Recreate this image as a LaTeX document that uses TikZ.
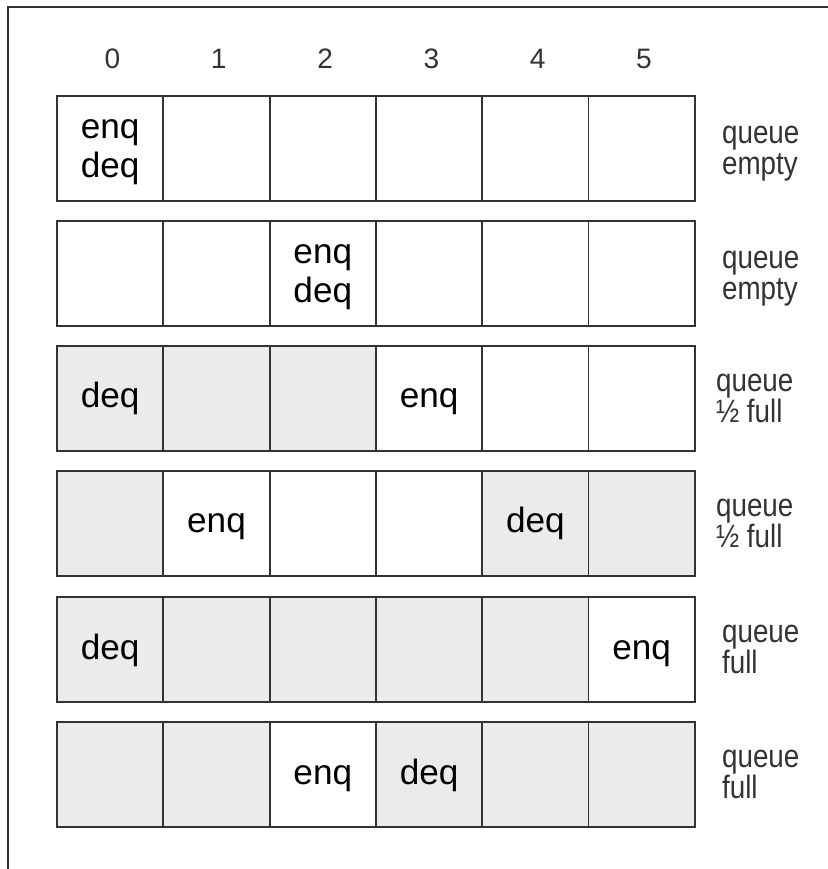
\documentclass[tikz,border=0pt]{standalone}
\usepackage{fontspec}
\setmainfont{Liberation Sans}
\newfontfamily\narrowsans[FakeStretch=0.86]{Liberation Sans}
\usepackage{tikz}
\usetikzlibrary{positioning}
\definecolor{slotgray}{HTML}{EBEBEB}
\definecolor{ink}{HTML}{333333}
\newcommand\cellstrut{\rule[-8pt]{0pt}{29.5pt}}
\newcommand\labelstrut{\rule{0pt}{20pt}}

\begin{document}
\begin{tikzpicture}[
  x=0.025cm, y=-0.025cm,
  node distance=5.5mm,
  cell/.style={draw=ink, line width=1.3pt, minimum width=2.6575cm, minimum height=2.625cm, inner sep=0pt, align=center, font=\fontsize{25}{28}\selectfont, execute at begin node=\cellstrut},
  free/.style={cell, fill=white},
  used/.style={cell, fill=slotgray},
  idx/.style={font=\fontsize{20}{22}\selectfont, text=ink},
  state/.style={align=left, inner sep=1mm, text=ink, font=\narrowsans\fontsize{23}{22}\selectfont},
]
\useasboundingbox (0,0) rectangle (828,869);
% Frame
\draw[ink, line width=1.3pt] (8,869) -- (8,7) -- (828,7);
% Slot numbers
\foreach \c in {0,...,5} \node[idx] (h\c) at (106.3*\c+112.5, 58.5) {\c};
% Row 1
\foreach \s/\t [count=\c from 0] in {free/{\cellstrut enq\\deq}, free/{}, free/{}, free/{}, free/{}, free/{}}
  \node[\s] (a\c) at (106.3*\c+110.2, 148.5) {\t};
\node[state, right=of a5] (sa) {\labelstrut queue\\empty};
% Row 2
\foreach \s/\t [count=\c from 0] in {free/{}, free/{}, free/{\cellstrut enq\\deq}, free/{}, free/{}, free/{}}
  \node[\s] (b\c) at (106.3*\c+110.2, 273.5) {\t};
\node[state, right=of b5] (sb) {\labelstrut queue\\empty};
% Row 3
\foreach \s/\t [count=\c from 0] in {used/deq, used/{}, used/{}, free/enq, free/{}, free/{}}
  \node[\s] (c\c) at (106.3*\c+110.2, 398.5) {\t};
\node[state, right=4mm of c5] (sc) {queue\\½ full};
% Row 4
\foreach \s/\t [count=\c from 0] in {used/{}, free/enq, free/{}, free/{}, used/deq, used/{}}
  \node[\s] (d\c) at (106.3*\c+110.2, 523.5) {\t};
\node[state, right=4mm of d5] (sd) {queue\\½ full};
% Row 5
\foreach \s/\t [count=\c from 0] in {used/deq, used/{}, used/{}, used/{}, used/{}, free/enq}
  \node[\s] (e\c) at (106.3*\c+110.2, 649.5) {\t};
\node[state, right=of e5] (se) {queue\\full};
% Row 6
\foreach \s/\t [count=\c from 0] in {used/{}, used/{}, free/enq, used/deq, used/{}, used/{}}
  \node[\s] (f\c) at (106.3*\c+110.2, 774.5) {\t};
\node[state, right=of f5] (sf) {queue\\full};
\end{tikzpicture}
\end{document}
